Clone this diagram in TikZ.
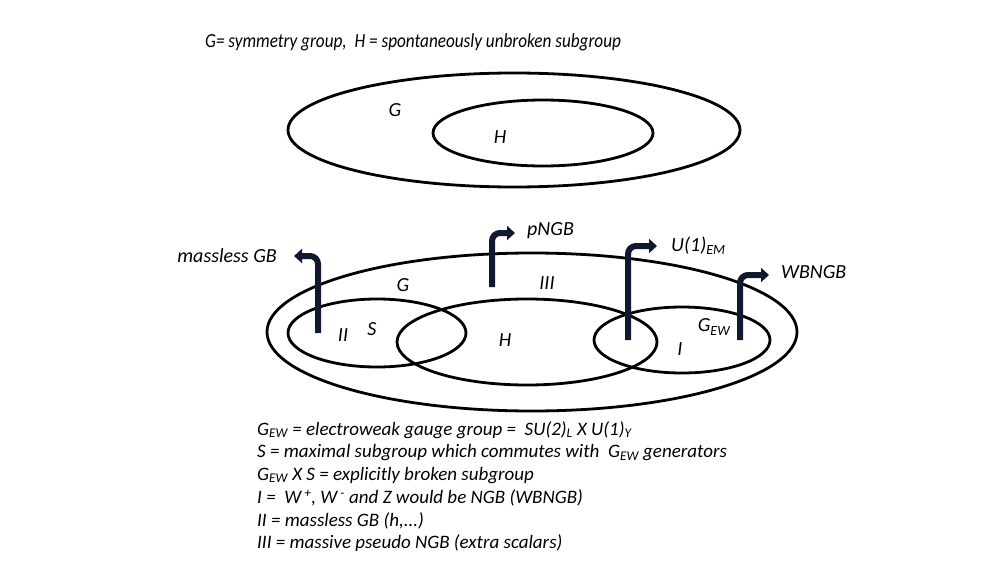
\documentclass[tikz,border=0pt]{standalone}
\usepackage{fontspec}
\setmainfont{Carlito}
\usetikzlibrary{shapes.geometric,arrows.meta}
\definecolor{barblue}{HTML}{0F1A30}
\tikzset{
  ell/.style={draw=black, line width=2.8pt, ellipse, inner sep=0pt, fill=none},
  lbl/.style={font=\fontsize{20}{22}\selectfont\itshape, inner sep=0pt},
  note/.style={font=\fontsize{19}{21}\selectfont\itshape, inner sep=0pt, anchor=west},
  bar/.style={draw=barblue, line width=6pt, rounded corners=8pt, -{Triangle[length=8pt,width=14pt]}},
}
\begin{document}
\begin{tikzpicture}[x=1pt,y=-1pt]
\useasboundingbox[fill=white] (0,0) rectangle (1008,567);
% title
\node[lbl, anchor=west, xscale=0.86] (title) at (205,42) {G= symmetry group,\ \ H = spontaneously unbroken subgroup};
% top diagram
\node[ell, minimum width=452pt, minimum height=114pt] (Gt) at (514,130) {};
\node[ell, minimum width=220pt, minimum height=66pt] (Ht) at (543,133) {};
\node[lbl] (Gtl) at (395,110) {G};
\node[lbl] (Htl) at (500,137) {H};
% bottom diagram
\node[ell, minimum width=530pt, minimum height=158pt] (Gb) at (532,332) {};
\node[ell, minimum width=178pt, minimum height=68pt] (Sb) at (377,333) {};
\node[ell, minimum width=260pt, minimum height=86pt] (Hb) at (527,342) {};
\node[ell, minimum width=176pt, minimum height=66pt] (Eb) at (682,340) {};
\node[lbl] (Gbl) at (403,285) {G};
\node[lbl] (IIIl) at (547,283) {III};
\node[lbl] (IIl) at (343,335) {II};
\node[lbl] (Sl) at (372,329) {S};
\node[lbl] (Hbl) at (505,340) {H};
\node[lbl] (GEWl) at (714,327) {G\textsubscript{EW}};
\node[lbl] (Il) at (680,349) {I};
% arrows
\node[lbl, anchor=east] (mgb) at (277,256) {massless GB};
\node[lbl, anchor=west] (png) at (527,231) {pNGB};
\node[lbl, anchor=west] (u1) at (671,246) {U(1)\textsubscript{EM}};
\node[lbl, anchor=west] (wb) at (781,272) {WBNGB};
\coordinate (a1s) at (318,333); \coordinate (a1e) at (294,256);
\coordinate (a2s) at (492,287); \coordinate (a2e) at (515,233);
\coordinate (a3s) at (628,340); \coordinate (a3e) at (657,246);
\coordinate (a4s) at (740,340); \coordinate (a4e) at (769,275);
\draw[bar] (a1s) |- (a1e);
\draw[bar] (a2s) |- (a2e);
\draw[bar] (a3s) |- (a3e);
\draw[bar] (a4s) |- (a4e);
% notes
\node[note] (n1) at (257,430) {G\textsubscript{EW} = electroweak gauge group =\ \ SU(2)\textsubscript{L} X U(1)\textsubscript{Y}};
\node[note] (n2) at (257,452.6) {S = maximal subgroup\ which commutes with\ \ G\textsubscript{EW} generators};
\node[note] (n3) at (257,475.2) {G\textsubscript{EW} X S = explicitly broken subgroup};
\node[note] (n4) at (257,497.8) {I =\ \ W\textsuperscript{ +}, W\textsuperscript{ -} and Z would be NGB (WBNGB)};
\node[note] (n5) at (257,520.4) {II = massless GB (h,...)};
\node[note] (n6) at (257,543) {III = massive pseudo\ NGB (extra scalars)};
\end{tikzpicture}
\end{document}
